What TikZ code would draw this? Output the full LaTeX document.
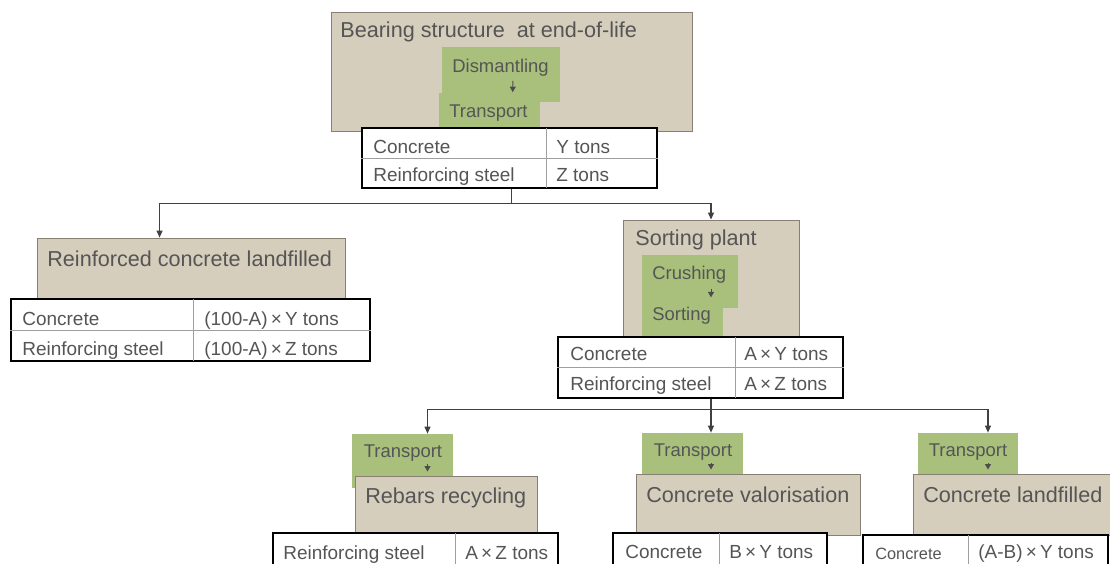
\documentclass[tikz,border=0pt]{standalone}
\usepackage{fontspec}
\setmainfont{Liberation Sans}
\usetikzlibrary{arrows.meta,positioning,fit,calc}

\definecolor{tanFill}{RGB}{214,206,188}
\definecolor{tanLine}{RGB}{135,128,114}
\definecolor{stepGreen}{RGB}{168,192,124}
\definecolor{inkGray}{RGB}{85,85,85}

\begin{document}
\begin{tikzpicture}[x=0.02cm, y=-0.02cm,
    every node/.style={text=inkGray, inner sep=0pt},
    tanBox/.style={draw=tanLine, fill=tanFill, line width=0.5pt, inner sep=0pt},
    greenBox/.style={fill=stepGreen, inner sep=0pt},
    tableBox/.style={draw=black, fill=white, line width=1.3pt, inner sep=0pt},
    titleText/.style={anchor=west, text height=8.8pt, text depth=0pt, font=\fontsize{12.3}{14}\selectfont},
    stepText/.style={anchor=west, text height=7.5pt, text depth=0pt, font=\fontsize{10.5}{12}\selectfont},
    cellText/.style={anchor=west, text height=7.7pt, text depth=0pt, font=\fontsize{10.8}{13}\selectfont},
    smallCell/.style={anchor=west, text height=6.7pt, text depth=0pt, font=\fontsize{9.3}{11}\selectfont},
    innerRule/.style={draw=gray!75, line width=0.5pt},
    flowArrow/.style={-{Triangle[length=1.4mm, width=1.2mm]}, draw=black!75, line width=0.6pt},
    tinyArrow/.style={-{Triangle[length=1.1mm, width=1.2mm]}, draw=black!70, line width=0.5pt}]

\useasboundingbox (0,0) rectangle (1110,564);
\clip (0,0) rectangle (1110,564);

% End-of-life structure
\node[tanBox, fit={(331,12) (692,131)}] (endLife) {};
\node[titleText] (endLifeTitle) at (340,29.5) {Bearing structure~ at end-of-life};
\node[greenBox, fit={(442,47) (560,102)}] (dismBg) {};
\node[greenBox, fit={(439,93) (540,128)}] (transpBg) {};
\node[stepText] (dism) at (452,66) {Dismantling};
\node[stepText] (transp) at (449,110.5) {Transport};
\draw[tinyArrow, shorten <=4.5pt, shorten >=6.5pt] ([xshift=0.25cm]dism.south) -- ([xshift=0.48cm]transp.north);

\node[tableBox, fit={(362,128) (657,188)}] (endLifeTab) {};
\draw[innerRule] (endLifeTab.west) -- (endLifeTab.east);
\draw[innerRule] (546,128) -- (546,188);
\node[cellText] (elC1) at (373,146.5) {Concrete};
\node[cellText] (elC2) at (556,146.5) {Y tons};
\node[cellText] (elS1) at (373,175) {Reinforcing steel};
\node[cellText] (elS2) at (556,175) {Z tons};

% Landfill of reinforced concrete
\node[tanBox, fit={(37,238) (345,298)}] (reinf) {};
\node[titleText] (reinfTitle) at (47,259) {Reinforced concrete landfilled};
\node[tableBox, fit={(11,299) (370,361)}] (reinfTab) {};
\draw[innerRule] (reinfTab.west) -- (reinfTab.east);
\draw[innerRule] (193,299) -- (193,361);
\node[cellText] (rfC1) at (22,318.5) {Concrete};
\node[cellText] (rfC2) at (204,318.5) {(100-A)\,×\,Y tons};
\node[cellText] (rfS1) at (22,348.5) {Reinforcing steel};
\node[cellText] (rfS2) at (204,348.5) {(100-A)\,×\,Z tons};

% Sorting plant
\node[tanBox, fit={(623,220) (799,336)}] (sortBox) {};
\node[titleText] (sortTitle) at (635,237.5) {Sorting plant};
\node[greenBox, fit={(642,255) (738,308)}] (crushBg) {};
\node[greenBox, fit={(642,300) (723,337)}] (sortingBg) {};
\node[stepText] (crush) at (652,273) {Crushing};
\node[stepText] (sorting) at (652,314) {Sorting};
\draw[tinyArrow, shorten <=5pt, shorten >=5.5pt] (crush.south -| sortBox.north) -- (sorting.north -| sortBox.north);

\node[tableBox, fit={(558,337) (843,398)}] (sortTab) {};
\draw[innerRule] (sortTab.west) -- (sortTab.east);
\draw[innerRule] (735,337) -- (735,398);
\node[cellText] (stC1) at (570,354) {Concrete};
\node[cellText] (stC2) at (744,354) {A\,×\,Y tons};
\node[cellText] (stS1) at (570,384) {Reinforcing steel};
\node[cellText] (stS2) at (744,384) {A\,×\,Z tons};

% First split
\coordinate (split1) at ($(endLifeTab.south -| endLife.north)+(0,14)$);
\draw[flowArrow] (endLifeTab.south -| endLife.north) -- (split1) -| ($(reinf.north west)+(123,0)$);
\draw[flowArrow] (split1) -| (sortBox.north);

% Transport steps
\node[greenBox, fit={(352,434) (453,488)}] (rebarTr) {};
\node[greenBox, fit={(642,433) (743,488)}] (valorTr) {};
\node[greenBox, fit={(918,433) (1018,488)}] (landTr) {};
\node[stepText, anchor=center] (rebarTrText) at (403,450.5) {Transport};
\node[stepText, anchor=center] (valorTrText) at (693,450) {Transport};
\node[stepText, anchor=center] (landTrText) at (968,450) {Transport};

% Final destinations
\node[tanBox, fit={(355,476) (537,535)}] (rebar) {};
\node[titleText] (rebarTitle) at (365,495.5) {Rebars recycling};
\node[tanBox, fit={(636,474) (860,535)}] (valor) {};
\node[titleText] (valorTitle) at (646,494.5) {Concrete valorisation};
\node[tanBox, fit={(913,474) (1120,535)}] (land) {};
\node[titleText] (landTitle) at (923,494.5) {Concrete landfilled};

\node[tableBox, fit={(273,533) (558,585)}] (rebarTab) {};
\draw[innerRule] (455,533) -- (455,585);
\node[cellText] (rbS1) at (283,552.5) {Reinforcing steel};
\node[cellText] (rbS2) at (465,552.5) {A\,×\,Z tons};

\node[tableBox, fit={(613,533) (827,585)}] (valorTab) {};
\draw[innerRule] (719,533) -- (719,585);
\node[cellText] (vlC1) at (625,551.5) {Concrete};
\node[cellText] (vlC2) at (729,551.5) {B\,×\,Y tons};

\node[tableBox, fit={(863,535) (1108,585)}] (landTab) {};
\draw[innerRule] (968,535) -- (968,585);
\node[smallCell] (ldC1) at (875,554) {Concrete};
\node[cellText] (ldC2) at (978,552) {(A-B)\,×\,Y tons};

% Second split
\coordinate (split2) at ($(sortTab.south -| sortBox.north)+(0,10)$);
\coordinate (rebarIn) at ($(rebarTr.north)+(25,0)$);
\coordinate (landIn) at ($(landTr.north)+(20,0)$);
\draw[flowArrow] (sortTab.south -| sortBox.north) -- (split2) -| (rebarIn);
\draw[flowArrow] (split2) -- (valorTr.north -| split2);
\draw[flowArrow] (split2) -| (landIn);

\draw[tinyArrow, shorten <=3.5pt, shorten >=2.3pt] (rebarTrText.south -| rebarIn) -- (rebar.north -| rebarIn);
\draw[tinyArrow, shorten <=3.5pt, shorten >=2.3pt] (valorTrText.south -| split2) -- (valor.north -| split2);
\draw[tinyArrow, shorten <=3.5pt, shorten >=2.3pt] (landTrText.south -| landIn) -- (land.north -| landIn);

\end{tikzpicture}
\end{document}
